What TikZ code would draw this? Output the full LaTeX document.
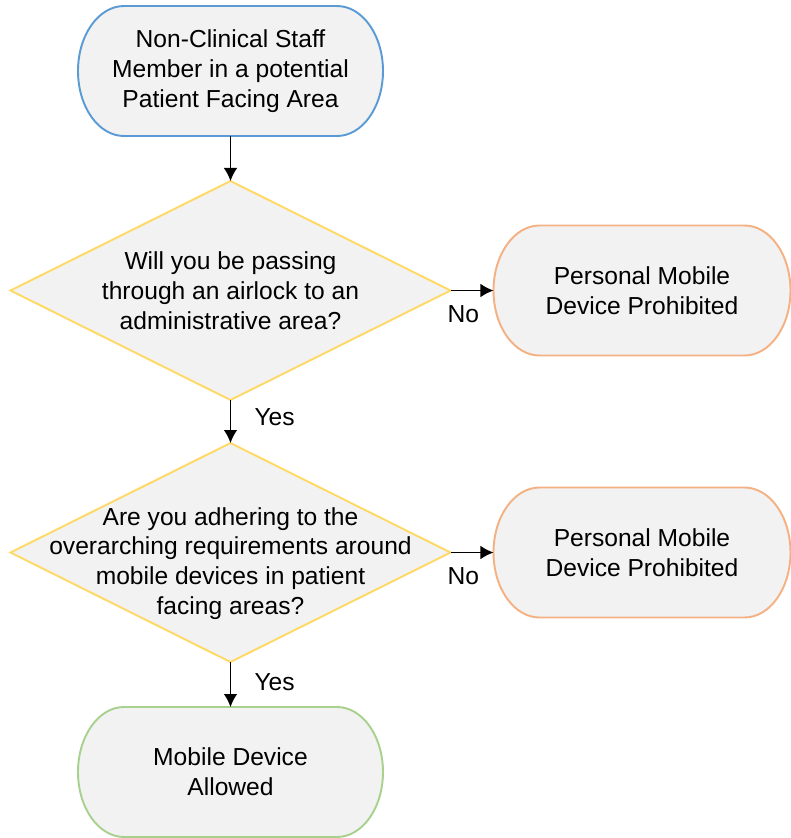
\documentclass[tikz,border=0pt]{standalone}
\usepackage{fontspec}
\setmainfont{Liberation Sans}
\usepackage{tikz}
\usetikzlibrary{shapes.geometric,arrows.meta,positioning,backgrounds}
\definecolor{startblue}{RGB}{91,155,213}
\definecolor{askgold}{RGB}{255,217,102}
\definecolor{stoporange}{RGB}{244,177,131}
\definecolor{okgreen}{RGB}{169,209,142}
\definecolor{boxgray}{RGB}{242,242,242}
\tikzstyle{txt}=[font=\fontsize{14pt}{17pt}\selectfont, align=center]
\tikzstyle{term}=[txt, outer sep=0pt, minimum width=6.1cm, minimum height=2.6cm]
\tikzstyle{stopbox}=[term, minimum width=5.94cm]
\tikzstyle{outline}=[line width=1.1pt, fill=boxgray]
\tikzstyle{ask}=[diamond, draw=askgold, outline, outer sep=0pt, minimum width=8.8cm, minimum height=4.38cm, inner sep=0pt]
\tikzstyle{lbl}=[font=\fontsize{14pt}{17pt}\selectfont]

\begin{document}
\begin{tikzpicture}[node distance=0.9cm,>={Latex[length=2.6mm,width=2.7mm]}]
    \useasboundingbox (-4.61,1.42) rectangle (11.21,-15.34);
    \node [term] (start) at (0,0) {Non-Clinical Staff\\Member in a potential\\Patient Facing Area};
    \node [ask, below=of start] (airlock) {};
    \node [txt] (airlocktxt) at (airlock) {Will you be passing\\through an airlock to an\\administrative area?};
    \node [stopbox, right=0.86cm of airlock] (noone) {Personal Mobile\\Device Prohibited};
    \node [ask, below=0.86cm of airlock] (adhere) {};
    \node [txt, yshift=-0.22cm] (adheretxt) at (adhere) {Are you adhering to the\\overarching requirements around\\mobile devices in patient\\facing areas?};
    \node [stopbox, right=0.86cm of adhere] (notwo) {Personal Mobile\\Device Prohibited};
    \node [term, below=of adhere] (allowed) {Mobile Device\\Allowed};
    % terminal outlines with oval ends
    \begin{scope}[on background layer]
    \foreach \n/\c in {start/startblue,noone/stoporange,notwo/stoporange,allowed/okgreen}
        \draw[outline, draw=\c] ([xshift=0.92cm]\n.north west) -- ([xshift=-0.92cm]\n.north east)
            arc[start angle=90, end angle=-90, x radius=0.92cm, y radius=1.3cm]
            -- ([xshift=0.92cm]\n.south west)
            arc[start angle=270, end angle=90, x radius=0.92cm, y radius=1.3cm] -- cycle;
    \end{scope}
    \path[->, line width=0.7pt]
    		(start) edge (airlock)
    		(airlock) edge node[lbl, below=5pt, pos=0.3] {No} (noone)
    		(airlock) edge node[lbl, right=10pt, pos=0.4] {Yes} (adhere)
    		(adhere) edge node[lbl, below=5pt, pos=0.3] {No} (notwo)
    		(adhere) edge node[lbl, right=10pt, pos=0.45] {Yes} (allowed);
\end{tikzpicture}
\end{document}
